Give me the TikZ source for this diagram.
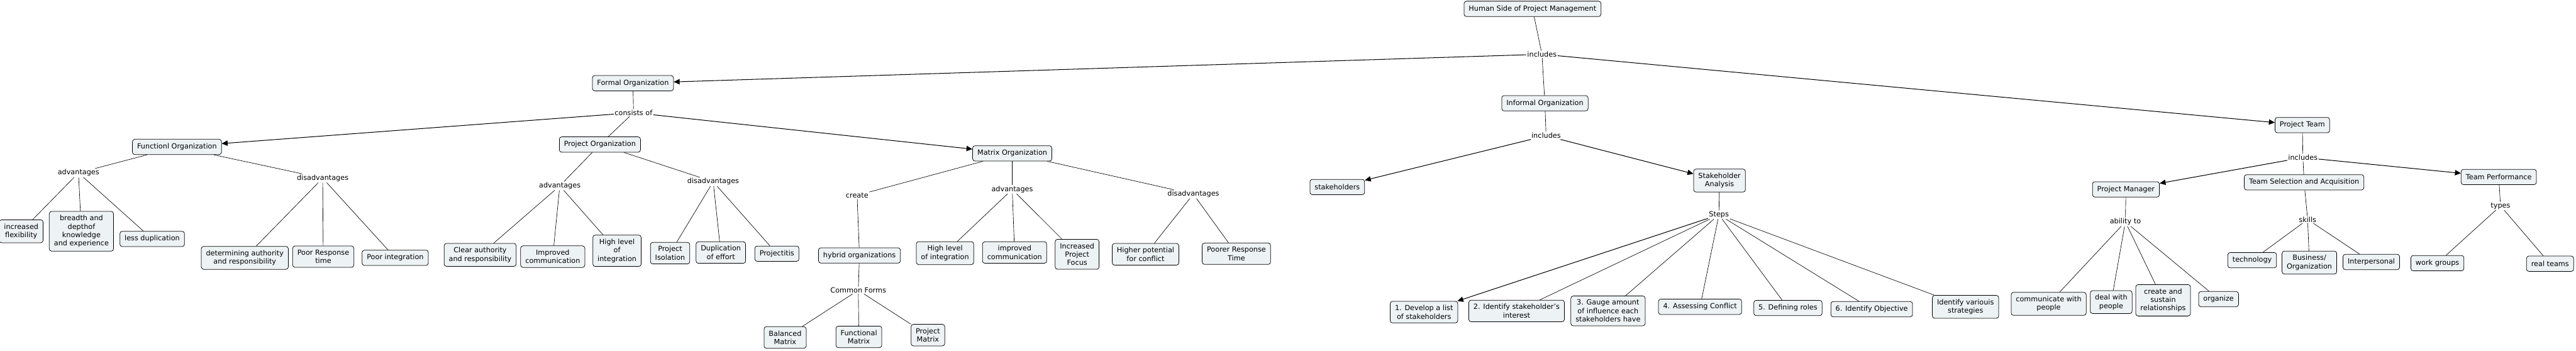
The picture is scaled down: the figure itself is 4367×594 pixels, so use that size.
\documentclass[tikz,border=0pt]{standalone}
\usepackage{fontspec}
\setmainfont{DejaVu Sans}
\usepackage{xcolor}
\usepackage{tikz}
\usetikzlibrary{arrows.meta}
\definecolor{cmapfill}{RGB}{237,242,244}
\tikzset{
  concept/.style = {draw=black, fill=cmapfill, rounded corners=4pt, align=center,
                    font=\fontsize{12}{14.3}\selectfont, inner xsep=8pt, inner ysep=6.5pt,
                    minimum height=26pt, line width=0.8pt},
  linkphr/.style = {font=\fontsize{12}{14.3}\selectfont, inner sep=1.5pt},
  link/.style    = {line width=0.7pt},
  linkto/.style  = {-{Triangle[length=10pt,width=9pt]}, line width=1.1pt},
}

\begin{document}
\begin{tikzpicture}[x=1pt, y=-1pt]
  \useasboundingbox (0,0) rectangle (4367,594);
  \node[concept] (human)    at (2598, 15)  {Human Side of Project Management};
  \node[linkphr] (incA)     at (2614, 92)  {includes};
  \node[concept] (formal)   at (1073, 141) {Formal Organization};
  \node[concept] (informal) at (2619, 175) {Informal Organization};
  \node[concept] (team)     at (3903, 212) {Project Team};
  \node[linkphr] (consists) at (1074, 191) {consists of};
  \node[concept] (func)     at (300, 249)  {Functionl Organization};
  \node[concept] (proj)     at (1017, 245) {Project Organization};
  \node[concept] (matrix)   at (1716, 260) {Matrix Organization};

  \node[linkphr] (fadv)     at (133, 293)  {advantages};
  \node[linkphr] (fdis)     at (547, 302)  {disadvantages};
  \node[concept] (flex)     at (36, 392)   {increased\\flexibility};
  \node[concept] (breadth)  at (138, 392)  {breadth and\\depthof\\knowledge\\and experience};
  \node[concept] (lessdup)  at (258, 405)  {less duplication};
  \node[concept] (determ)   at (415, 437)  {determining authority\\and responsibility};
  \node[concept] (poorresp) at (548, 435)  {Poor Response\\time};
  \node[concept] (poorint)  at (670, 437)  {Poor integration};

  \node[linkphr] (padv)     at (949, 315)  {advantages};
  \node[linkphr] (pdis)     at (1209, 308) {disadvantages};
  \node[concept] (clear)    at (814, 432)  {Clear authority\\and responsibility};
  \node[concept] (impcomm)  at (937, 435)  {Improved\\communication};
  \node[concept] (highint)  at (1046, 425) {High level\\of\\integration};
  \node[concept] (isol)     at (1136, 429) {Project\\Isolation};
  \node[concept] (dupl)     at (1222, 428) {Duplication\\of effort};
  \node[concept] (projitis) at (1317, 430) {Projectitis};

  \node[linkphr] (create)   at (1453, 331) {create};
  \node[linkphr] (madv)     at (1716, 321) {advantages};
  \node[linkphr] (mdis)     at (2023, 329) {disadvantages};
  \node[concept] (hybrid)   at (1457, 433) {hybrid organizations};
  \node[linkphr] (common)   at (1455, 492) {Common Forms};
  \node[concept] (balanced) at (1331, 572) {Balanced\\Matrix};
  \node[concept] (funcmat)  at (1456, 571) {Functional\\Matrix};
  \node[concept] (projmat)  at (1573, 568) {Project\\Matrix};
  \node[concept] (mhigh)    at (1602, 429) {High level\\of integration};
  \node[concept] (mimp)     at (1720, 428) {improved\\communication};
  \node[concept] (mfocus)   at (1826, 431) {Increased\\Project\\Focus};
  \node[concept] (mconf)    at (1942, 431) {Higher potential\\for conflict};
  \node[concept] (mpoorer)  at (2096, 430) {Poorer Response\\Time};

  \node[linkphr] (incB)     at (2621, 230) {includes};
  \node[concept] (stake)    at (2267, 317) {stakeholders};
  \node[concept] (sanal)    at (2915, 306) {Stakeholder\\Analysis};
  \node[linkphr] (steps)    at (2914, 364) {Steps};
  \node[concept] (sone)     at (2414, 529) {1. Develop a list\\of stakeholders};
  \node[concept] (stwo)     at (2571, 527) {2. Identify stakeholder's\\interest};
  \node[concept] (sthree)   at (2726, 527) {3. Gauge amount\\of influence each\\stakeholders have};
  \node[concept] (sfour)    at (2882, 520) {4. Assessing Conflict};
  \node[concept] (sfive)    at (3031, 522) {5. Defining roles};
  \node[concept] (ssix)     at (3173, 524) {6. Identify Objective};
  \node[concept] (sseven)   at (3332, 520) {Identify variouis\\strategies};

  \node[linkphr] (incC)     at (3904, 267) {includes};
  \node[concept] (pm)       at (3604, 321) {Project Manager};
  \node[concept] (tsa)      at (3906, 309) {Team Selection and Acquisition};
  \node[concept] (tperf)    at (4236, 300) {Team Performance};
  \node[linkphr] (ability)  at (3603, 376) {ability to};
  \node[linkphr] (skills)   at (3912, 372) {skills};
  \node[linkphr] (types)    at (4239, 349) {types};
  \node[concept] (commp)    at (3473, 515) {communicate with\\people};
  \node[concept] (deal)     at (3579, 512) {deal with\\people};
  \node[concept] (sustain)  at (3667, 509) {create and\\sustain\\relationships};
  \node[concept] (organize) at (3761, 507) {organize};
  \node[concept] (tech)     at (3818, 441) {technology};
  \node[concept] (business) at (3915, 445) {Business/\\Organization};
  \node[concept] (interp)   at (4020, 444) {Interpersonal};
  \node[concept] (workg)    at (4132, 446) {work groups};
  \node[concept] (realt)    at (4323, 447) {real teams};

  \draw[link] (human) -- (incA);
  \draw[linkto] (incA) -- (formal);
  \draw[link] (incA) -- (informal);
  \draw[linkto] (incA) -- (team);
  \draw[link] (formal) -- (consists);
  \draw[linkto] (consists) -- (func);
  \draw[link] (consists) -- (proj);
  \draw[linkto] (consists) -- (matrix);

  \draw[link] (func) -- (fadv);
  \draw[link] (fadv) -- (flex);
  \draw[link] (fadv) -- (breadth);
  \draw[link] (fadv) -- (lessdup);
  \draw[link] (func) -- (fdis);
  \draw[link] (fdis) -- (determ);
  \draw[link] (fdis) -- (poorresp);
  \draw[link] (fdis) -- (poorint);

  \draw[link] (proj) -- (padv);
  \draw[link] (padv) -- (clear);
  \draw[link] (padv) -- (impcomm);
  \draw[link] (padv) -- (highint);
  \draw[link] (proj) -- (pdis);
  \draw[link] (pdis) -- (isol);
  \draw[link] (pdis) -- (dupl);
  \draw[link] (pdis) -- (projitis);

  \draw[link] (matrix) -- (create);
  \draw[link] (create) -- (hybrid);
  \draw[link] (hybrid) -- (common);
  \draw[link] (common) -- (balanced);
  \draw[link] (common) -- (funcmat);
  \draw[link] (common) -- (projmat);
  \draw[link] (matrix) -- (madv);
  \draw[link] (madv) -- (mhigh);
  \draw[link] (madv) -- (mimp);
  \draw[link] (madv) -- (mfocus);
  \draw[link] (matrix) -- (mdis);
  \draw[link] (mdis) -- (mconf);
  \draw[link] (mdis) -- (mpoorer);

  \draw[link] (informal) -- (incB);
  \draw[linkto] (incB) -- (stake);
  \draw[linkto] (incB) -- (sanal);
  \draw[link] (sanal) -- (steps);
  \draw[linkto] (steps) -- (sone);
  \draw[link] (steps) -- (stwo);
  \draw[link] (steps) -- (sthree);
  \draw[link] (steps) -- (sfour);
  \draw[link] (steps) -- (sfive);
  \draw[link] (steps) -- (ssix);
  \draw[link] (steps) -- (sseven);

  \draw[link] (team) -- (incC);
  \draw[linkto] (incC) -- (pm);
  \draw[link] (incC) -- (tsa);
  \draw[linkto] (incC) -- (tperf);
  \draw[link] (pm) -- (ability);
  \draw[link] (ability) -- (commp);
  \draw[link] (ability) -- (deal);
  \draw[link] (ability) -- (sustain);
  \draw[link] (ability) -- (organize);
  \draw[link] (tsa) -- (skills);
  \draw[link] (skills) -- (tech);
  \draw[link] (skills) -- (business);
  \draw[link] (skills) -- (interp);
  \draw[link] (tperf) -- (types);
  \draw[link] (types) -- (workg);
  \draw[link] (types) -- (realt);
\end{tikzpicture}
\end{document}
